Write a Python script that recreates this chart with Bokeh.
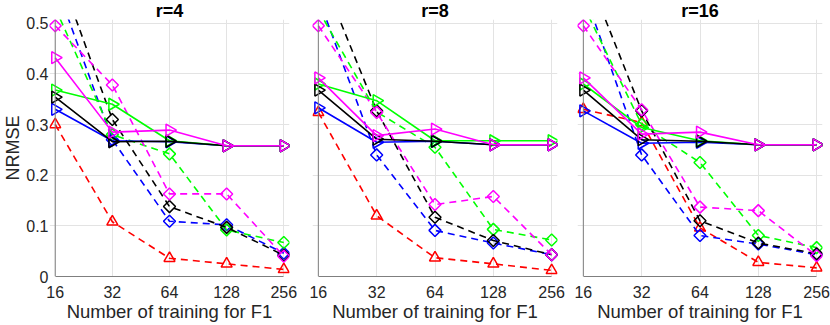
import numpy as np
from bokeh.plotting import figure
from bokeh.layouts import row
from bokeh.models import FixedTicker, Span, Range1d
from bokeh.embed import file_html
from bokeh.resources import INLINE

# ---------------- data ----------------
n_train = [16, 32, 64, 128, 256]
x_ticks = [16, 32, 64, 128, 256]
y_ticks = [0, 0.1, 0.2, 0.3, 0.4, 0.5]
titles = ["r=4", "r=8", "r=16"]
x_label = "Number of training for F1"
y_label = "NRMSE"

# r = 4
r4_red_dash = [0.300, 0.108, 0.036, 0.025, 0.014]
r4_blue_dash = [0.580, 0.270, 0.109, 0.102, 0.046]
r4_green_dash = [0.530, 0.280, 0.242, 0.092, 0.067]
r4_black_dash = [0.620, 0.310, 0.138, 0.097, 0.042]
r4_magenta_dash = [0.495, 0.378, 0.163, 0.163, 0.040]
r4_blue_solid = [0.330, 0.268, 0.266, 0.258, 0.258]
r4_green_solid = [0.368, 0.340, 0.268, 0.258, 0.258]
r4_black_solid = [0.354, 0.266, 0.267, 0.258, 0.258]
r4_magenta_solid = [0.432, 0.285, 0.289, 0.258, 0.258]

# r = 8
r8_red_dash = [0.324, 0.120, 0.037, 0.025, 0.012]
r8_blue_dash = [0.550, 0.240, 0.091, 0.066, 0.043]
r8_green_dash = [0.526, 0.325, 0.255, 0.093, 0.072]
r8_black_dash = [0.610, 0.327, 0.117, 0.071, 0.043]
r8_magenta_dash = [0.495, 0.324, 0.142, 0.158, 0.043]
r8_blue_solid = [0.333, 0.265, 0.267, 0.260, 0.260]
r8_green_solid = [0.380, 0.347, 0.268, 0.268, 0.268]
r8_black_solid = [0.368, 0.271, 0.267, 0.260, 0.260]
r8_magenta_solid = [0.392, 0.278, 0.291, 0.260, 0.260]

# r = 16
r16_red_dash = [0.330, 0.304, 0.096, 0.028, 0.017]
r16_blue_dash = [0.566, 0.240, 0.081, 0.064, 0.043]
r16_green_dash = [0.535, 0.300, 0.225, 0.081, 0.057]
r16_black_dash = [0.617, 0.327, 0.110, 0.066, 0.045]
r16_magenta_dash = [0.495, 0.329, 0.137, 0.130, 0.041]
r16_blue_solid = [0.327, 0.263, 0.265, 0.260, 0.260]
r16_green_solid = [0.380, 0.294, 0.268, 0.260, 0.260]
r16_black_solid = [0.368, 0.270, 0.267, 0.260, 0.260]
r16_magenta_solid = [0.392, 0.281, 0.285, 0.260, 0.260]

panels = [
    [r4_red_dash, r4_blue_dash, r4_green_dash, r4_black_dash, r4_magenta_dash,
     r4_blue_solid, r4_green_solid, r4_black_solid, r4_magenta_solid],
    [r8_red_dash, r8_blue_dash, r8_green_dash, r8_black_dash, r8_magenta_dash,
     r8_blue_solid, r8_green_solid, r8_black_solid, r8_magenta_solid],
    [r16_red_dash, r16_blue_dash, r16_green_dash, r16_black_dash, r16_magenta_dash,
     r16_blue_solid, r16_green_solid, r16_black_solid, r16_magenta_solid],
]

# style per series: (color, dash, marker)
styles = [
    ("#ff0000", "7 5", "triangle"),
    ("#0000ff", "7 5", "diamond"),
    ("#00ff00", "7 5", "diamond"),
    ("#000000", "7 5", "diamond"),
    ("#ff00ff", "7 5", "diamond"),
    ("#0000ff", "solid", "tri_right"),
    ("#00ff00", "solid", "tri_right"),
    ("#000000", "solid", "tri_right"),
    ("#ff00ff", "solid", "tri_right"),
]

FONT = "Liberation Sans"
PAD_OCT = 0.1
Y_END = 0.5073
AXIS_GREY = "#7f7f7f"
GRID_GREY = "#e3e3e3"
TEXT_COL = "#262626"

# (width, left border, right border)
geom = [(300, 44, 11), (267, 12, 10), (263, 10, 8)]

figs = []
for i, (vals, title) in enumerate(zip(panels, titles)):
    w, bl, br = geom[i]
    p = figure(
        width=w, height=325,
        x_axis_type="log",
        x_range=Range1d(16 / 2 ** PAD_OCT, 256 * 2 ** PAD_OCT),
        y_range=Range1d(0, Y_END),
        y_axis_location="left" if i == 0 else None,
        output_backend="svg", toolbar_location=None, title=title,
        min_border_left=bl, min_border_right=br,
        min_border_top=19, min_border_bottom=49,
    )
    p.outline_line_color = None
    p.background_fill_color = "white"
    p.border_fill_color = "white"

    p.title.align = "center"
    p.title.text_font = FONT
    p.title.text_font_size = "18px"
    p.title.text_font_style = "bold"
    p.title.text_color = "#000000"
    p.title.standoff = -3
    p.title.offset = 0

    # x axis
    xa = p.xaxis[0]
    xa.ticker = FixedTicker(ticks=x_ticks)
    xa.major_label_overrides = {t: str(t) for t in x_ticks}
    xa.bounds = (16, 256)
    xa.axis_line_color = AXIS_GREY
    xa.axis_line_width = 1
    xa.major_tick_out = 0
    xa.major_tick_in = 0
    xa.minor_tick_out = 0
    xa.minor_tick_in = 0
    xa.major_label_standoff = 9
    xa.major_label_text_font = FONT
    xa.major_label_text_font_size = "16px"
    xa.major_label_text_color = TEXT_COL
    xa.axis_label = x_label
    xa.axis_label_standoff = 0
    xa.axis_label_text_font = FONT
    xa.axis_label_text_font_size = "18.5px"
    xa.axis_label_text_font_style = "normal"
    xa.axis_label_text_color = TEXT_COL

    if i == 0:
        ya = p.yaxis[0]
        ya.ticker = FixedTicker(ticks=y_ticks)
        ya.major_label_overrides = {t: f"{t:g}" for t in y_ticks}
        ya.axis_line_color = None
        ya.major_tick_out = 0
        ya.major_tick_in = 0
        ya.minor_tick_out = 0
        ya.minor_tick_in = 0
        ya.major_label_standoff = 1
        ya.major_label_text_font = FONT
        ya.major_label_text_font_size = "16px"
        ya.major_label_text_color = TEXT_COL
        ya.axis_label = y_label
        ya.axis_label_standoff = 0
        ya.axis_label_text_font = FONT
        ya.axis_label_text_font_size = "18px"
        ya.axis_label_text_font_style = "normal"
        ya.axis_label_text_color = TEXT_COL
    p.ygrid.ticker = FixedTicker(ticks=y_ticks)
    p.xgrid.ticker = FixedTicker(ticks=x_ticks)
    p.xgrid.grid_line_color = GRID_GREY
    p.ygrid.grid_line_color = GRID_GREY
    p.xgrid.grid_line_width = 1
    p.ygrid.grid_line_width = 1

    # y axis line at x = 16
    p.add_layout(Span(location=16, dimension="height", line_color=AXIS_GREY, line_width=1))

    for y, (color, dash, marker) in zip(vals, styles):
        p.line(n_train, y, line_color=color, line_width=1.6, line_dash=dash)
        if marker == "diamond":
            p.scatter(n_train, y, marker="square", angle=np.pi / 4, size=8.5,
                      fill_color=None, line_color=color, line_width=1.5)
        elif marker == "triangle":
            p.scatter(n_train, y, marker="triangle", size=11,
                      fill_color=None, line_color=color, line_width=1.5)
        else:
            p.scatter(n_train, y, marker="triangle", angle=-np.pi / 2, size=12,
                      fill_color=None, line_color=color, line_width=1.5)
    figs.append(p)

layout = row(*figs, spacing=0)
open("out.html", "w").write(file_html(layout, INLINE))
